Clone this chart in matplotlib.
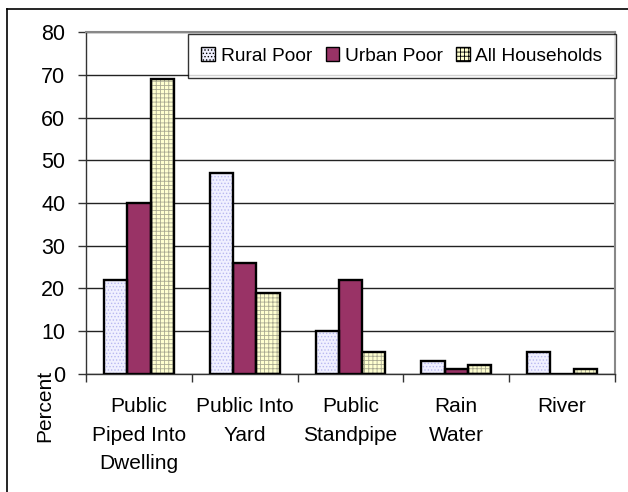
import matplotlib
matplotlib.use("Agg")
import matplotlib.pyplot as plt
import numpy as np
from matplotlib.lines import Line2D

plt.rcParams['font.family'] = ['Liberation Sans', 'DejaVu Sans']
plt.rcParams['hatch.linewidth'] = 0.6

categories = ["Public\nPiped Into\nDwelling", "Public Into\nYard", "Public\nStandpipe", "Rain\nWater", "River"]
series_names = ["Rural Poor", "Urban Poor", "All Households"]
rural_poor = [22, 47, 10, 3, 5]
urban_poor = [40, 26, 22, 1, 0]
all_households = [69, 19, 5, 2, 1]
yticks = [0, 10, 20, 30, 40, 50, 60, 70, 80]

styles = [
    dict(face="#f0f0ff", hatch=".....", hcol="#b8b8f0"),
    dict(face="#993366", hatch=None, hcol="#993366"),
    dict(face="#ffffd0", hatch="++++", hcol="#a8a890"),
]

W, H = 628, 492
fig = plt.figure(figsize=(W / 100, H / 100), dpi=100)
ax = fig.add_axes([86 / W, 1 - 373.7 / H, (615 - 86) / W, (373.7 - 32.3) / H])

x = np.arange(len(categories))
bw = 0.22
data = [rural_poor, urban_poor, all_households]
handles = []
for i, (vals, st, name) in enumerate(zip(data, styles, series_names)):
    pos = x + (i - 1) * bw
    ax.bar(pos, vals, width=bw, color=st["face"], hatch=st["hatch"],
           edgecolor=st["hcol"], linewidth=0, zorder=3)
    ax.bar(pos, vals, width=bw, facecolor="none", edgecolor="black",
           linewidth=1.7, zorder=4)
    handles.append(plt.Rectangle((0, 0), 1, 1, facecolor=st["face"], hatch=st["hatch"],
                                 edgecolor="black", linewidth=1.0))

ax.set_xlim(-0.5, len(categories) - 0.5)
ax.set_ylim(0, 80)
ax.set_yticks(yticks)
ax.set_yticklabels([str(v) for v in yticks], fontsize=15.5)
ax.yaxis.grid(True, color="#222222", linewidth=1.0, zorder=0)
ax.set_axisbelow(True)

ax.set_xticks(x)
ax.set_xticklabels(categories, fontsize=15, linespacing=1.62)
ax.set_xticks(np.arange(-0.5, len(categories)), minor=True)
ax.tick_params(axis="x", which="major", length=0, pad=17)
ax.tick_params(axis="x", which="minor", length=6, width=1, color="#333333")
ax.tick_params(axis="y", length=6, width=1, color="#333333", pad=9)

for s in ["left", "bottom"]:
    ax.spines[s].set_color("#333333")
    ax.spines[s].set_linewidth(1.0)
for s in ["top", "right"]:
    ax.spines[s].set_color("#888888")
    ax.spines[s].set_linewidth(1.5)

fig.text(45 / W, 1 - 406 / H, "Percent", rotation=90, fontsize=15,
         ha="center", va="center")

leg = ax.legend(handles, series_names, loc="upper left", ncol=3,
                bbox_to_anchor=(188 / W, 1 - 79 / H, (616 - 188) / W, 45 / H),
                bbox_transform=fig.transFigure, mode="expand",
                fontsize=13.8, frameon=True, fancybox=False, borderpad=0.7,
                handlelength=0.7, handleheight=0.7, handletextpad=0.3,
                columnspacing=0.6, borderaxespad=0)
leg.get_frame().set_edgecolor("black")
leg.get_frame().set_linewidth(1.0)
leg.set_zorder(10)

# outer chart frame
fig.add_artist(Line2D([7 / W, 7 / W], [0, 1 - 9 / H], transform=fig.transFigure,
                      color="black", linewidth=1.2))
fig.add_artist(Line2D([7 / W, 1], [1 - 9 / H, 1 - 9 / H], transform=fig.transFigure,
                      color="black", linewidth=1.2))

fig.savefig("out.png", dpi=100)
